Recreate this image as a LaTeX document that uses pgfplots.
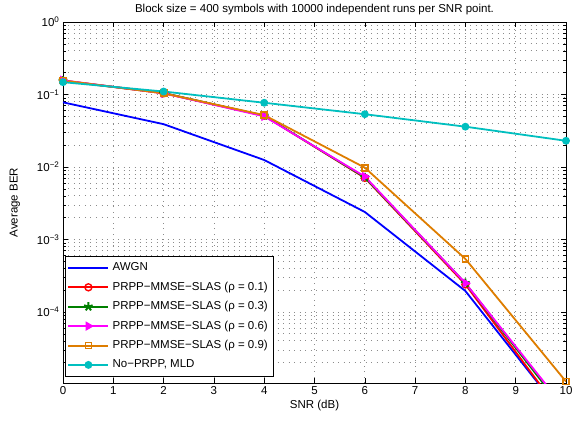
\documentclass[border=0pt]{standalone}
\usepackage{fontspec}
\setmainfont{Liberation Sans}
\usepackage{pgfplots}
\pgfplotsset{compat=1.18}
\definecolor{mblue}{rgb}{0,0,1}
\definecolor{mred}{rgb}{1,0,0}
\definecolor{mgreen}{rgb}{0,0.5,0}
\definecolor{mmag}{rgb}{1,0,1}
\definecolor{morange}{rgb}{0.87,0.49,0}
\definecolor{mcyan}{rgb}{0,0.75,0.75}
\begin{document}
\begin{tikzpicture}[x=1pt,y=1pt]
\begin{semilogyaxis}[
  scale only axis,
  width=503pt, height=361pt,
  xmin=0, xmax=10, ymin=1.05e-5, ymax=1,
  xtick={0,1,...,10},
  ytick={1e-4,1e-3,1e-2,1e-1,1},
  yticklabels={10\textsuperscript{−4},10\textsuperscript{−3},10\textsuperscript{−2},10\textsuperscript{−1},10\textsuperscript{0}},
  minor ytick={2e-5,3e-5,4e-5,5e-5,6e-5,7e-5,8e-5,9e-5,
    2e-4,3e-4,4e-4,5e-4,6e-4,7e-4,8e-4,9e-4,
    2e-3,3e-3,4e-3,5e-3,6e-3,7e-3,8e-3,9e-3,
    0.02,0.03,0.04,0.05,0.06,0.07,0.08,0.09,
    0.2,0.3,0.4,0.5,0.6,0.7,0.8,0.9},
  xmajorgrids, ymajorgrids, yminorgrids,
  major grid style={dash pattern=on 1pt off 4.5pt, line width=0.8pt, black!45},
  minor grid style={dash pattern=on 1pt off 4.5pt, line width=0.8pt, black!45},
  tick align=inside,
  major tick length=5pt, minor tick length=3pt,
  every tick/.style={black, line width=0.6pt},
  axis line style={black, line width=0.8pt},
  tick label style={font=\fontsize{11.5}{13}\selectfont},
  xticklabel style={/pgf/number format/assume math mode=true},
  label style={font=\fontsize{11.5}{13}\selectfont},
  xlabel={SNR (dB)},
  ylabel={Average BER},
  xlabel style={yshift=1pt},
  ylabel style={yshift=10pt},
  title={Block size = 400 symbols with 10000 independent runs per SNR point.},
  title style={font=\fontsize{11.5}{13}\selectfont, yshift=-2pt},
  legend cell align=left,
  legend style={at={(rel axis cs:0,0)}, anchor=south west, xshift=2pt, yshift=6pt,
    draw=black, line width=0.8pt, fill=white,
    font=\fontsize{11.5}{13}\selectfont,
    nodes={text height=9.5pt, text depth=3.5pt, inner sep=3.2pt},
    row sep=0pt, inner sep=2pt},
  legend image code/.code={%
    \draw[line width=2pt, mark=none] (0pt,0pt) -- (40pt,0pt);
    \draw[line width=1.8pt] plot coordinates {(20pt,0pt)};},
]
\addplot[mblue, line width=1.8pt, no marks] coordinates {(0,0.078) (2,0.039) (4,0.0125) (6,0.0024) (8,1.95e-4) (10,3.4e-6)};
\addlegendentry{AWGN}
\addplot[mred, line width=1.8pt, mark=o, mark size=3.5pt, mark options={line width=1.4pt}, mark indices={1,2,3,4,5}] coordinates {(0,0.155) (2,0.104) (4,0.051) (6,0.0071) (8,2.4e-4) (10,3.3e-6)};
\addlegendentry{PRPP−MMSE−SLAS (ρ = 0.1)}
\addplot[mgreen, line width=1.8pt, mark=star, mark size=4.5pt, mark options={line width=2pt}, mark indices={1,2,3,4,5}] coordinates {(0,0.155) (2,0.105) (4,0.051) (6,0.0072) (8,2.5e-4) (10,4.1e-6)};
\addlegendentry{PRPP−MMSE−SLAS (ρ = 0.3)}
\addplot[mmag, line width=1.8pt, mark=triangle*, mark size=4.5pt, mark options={rotate=-90, line width=1pt}, mark indices={1,2,3,4,5}] coordinates {(0,0.157) (2,0.104) (4,0.050) (6,0.0074) (8,2.5e-4) (10,4.5e-6)};
\addlegendentry{PRPP−MMSE−SLAS (ρ = 0.6)}
\addplot[morange, line width=1.8pt, mark=square, mark size=3pt] coordinates {(0,0.156) (2,0.104) (4,0.052) (6,0.0098) (8,5.4e-4) (10,1.1e-5)};
\addlegendentry{PRPP−MMSE−SLAS (ρ = 0.9)}
\addplot[mcyan, line width=1.8pt, mark=*, mark size=3pt] coordinates {(0,0.148) (2,0.110) (4,0.077) (6,0.0535) (8,0.036) (10,0.023)};
\addlegendentry{No−PRPP, MLD}
\end{semilogyaxis}
\path (current axis.south west) ++(-63pt,-41pt) rectangle ++(586pt,424pt);
\end{tikzpicture}
\end{document}
